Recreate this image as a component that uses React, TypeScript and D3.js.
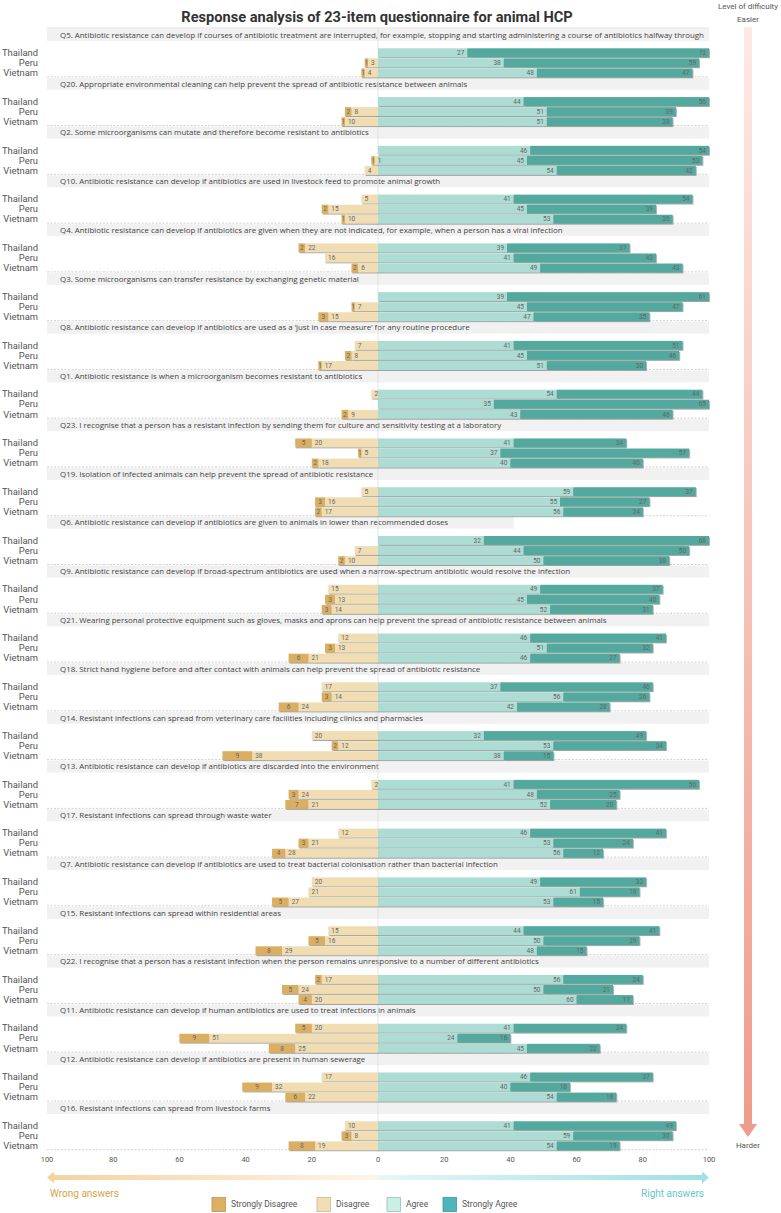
import React from 'react'
import * as d3 from 'd3'

// question order as shown, top (easier) to bottom (harder)
const questions = [
  'Q5. Antibiotic resistance can develop if courses of antibiotic treatment are interrupted, for example, stopping and starting administering a course of antibiotics halfway through',
  'Q20. Appropriate environmental cleaning can help prevent the spread of antibiotic resistance between animals',
  'Q2. Some microorganisms can mutate and therefore become resistant to antibiotics',
  'Q10. Antibiotic resistance can develop if antibiotics are used in livestock feed to promote animal growth',
  'Q4. Antibiotic resistance can develop if antibiotics are given when they are not indicated, for example, when a person has a viral infection',
  'Q3. Some microorganisms can transfer resistance by exchanging genetic material',
  'Q8. Antibiotic resistance can develop if antibiotics are used as a \u2018just in case measure\u2019 for any routine procedure',
  'Q1. Antibiotic resistance is when a microorganism becomes resistant to antibiotics',
  'Q23. I recognise that a person has a resistant infection by sending them for culture and sensitivity testing at a laboratory',
  'Q19. Isolation of infected animals can help prevent the spread of antibiotic resistance',
  'Q6. Antibiotic resistance can develop if antibiotics are given to animals in lower than recommended doses',
  'Q9. Antibiotic resistance can develop if broad-spectrum antibiotics are used when a narrow-spectrum antibiotic would resolve the infection',
  'Q21. Wearing personal protective equipment such as gloves, masks and aprons can help prevent the spread of antibiotic resistance between animals',
  'Q18. Strict hand hygiene before and after contact with animals can help prevent the spread of antibiotic resistance',
  'Q14. Resistant infections can spread from veterinary care facilities including clinics and pharmacies',
  'Q13. Antibiotic resistance can develop if antibiotics are discarded into the environment',
  'Q17. Resistant infections can spread through waste water',
  'Q7. Antibiotic resistance can develop if antibiotics are used to treat bacterial colonisation rather than bacterial infection',
  'Q15. Resistant infections can spread within residential areas',
  'Q22. I recognise that a person has a resistant infection when the person remains unresponsive to a number of different antibiotics',
  'Q11. Antibiotic resistance can develop if human antibiotics are used to treat infections in animals',
  'Q12. Antibiotic resistance can develop if antibiotics are present in human sewerage',
  'Q16. Resistant infections can spread from livestock farms',
]

const countries = ['Thailand', 'Peru', 'Vietnam']

// [Thailand, Peru, Vietnam] per question
const stronglyDisagree = [
  [0, 1, 1], [0, 2, 1], [0, 1, 0], [0, 2, 1], [2, 0, 2], [0, 1, 3], [0, 2, 1], [0, 0, 2],
  [5, 1, 2], [0, 3, 2], [0, 0, 2], [0, 3, 3], [0, 3, 6], [0, 3, 6], [0, 2, 9], [0, 3, 7],
  [0, 3, 4], [0, 0, 5], [0, 5, 8], [2, 5, 4], [5, 9, 8], [0, 9, 6], [0, 3, 8],
]
const disagree = [
  [0, 3, 4], [0, 8, 10], [0, 1, 4], [5, 15, 10], [22, 16, 6], [0, 7, 15], [7, 8, 17], [2, 0, 9],
  [20, 5, 18], [5, 16, 17], [0, 7, 10], [15, 13, 14], [12, 13, 21], [17, 14, 24], [20, 12, 38], [2, 24, 21],
  [12, 21, 28], [20, 21, 27], [15, 16, 29], [17, 24, 20], [20, 51, 25], [17, 32, 22], [10, 8, 19],
]
const agree = [
  [27, 38, 48], [44, 51, 51], [46, 45, 54], [41, 45, 53], [39, 41, 49], [39, 45, 47], [41, 45, 51], [54, 35, 43],
  [41, 37, 40], [59, 55, 56], [32, 44, 50], [49, 45, 52], [46, 51, 46], [37, 56, 42], [32, 53, 38], [41, 48, 52],
  [46, 53, 56], [49, 61, 53], [44, 50, 48], [56, 50, 60], [41, 24, 45], [46, 40, 54], [41, 59, 54],
]
const stronglyAgree = [
  [73, 59, 47], [56, 39, 38], [54, 53, 42], [54, 39, 36], [37, 43, 43], [61, 47, 35], [51, 46, 30], [44, 65, 46],
  [34, 57, 40], [37, 27, 24], [68, 50, 38], [37, 40, 31], [41, 32, 27], [46, 26, 28], [49, 34, 15], [56, 25, 20],
  [41, 24, 12], [32, 18, 15], [41, 29, 15], [24, 21, 17], [34, 16, 22], [37, 18, 18], [49, 30, 19],
]

const legendLabels = ['Strongly Disagree', 'Disagree', 'Agree', 'Strongly Agree']

const COL = { sd: '#dbaf62', d: '#f0ddb3', a: '#acdcd4', sa: '#53a99d' }
const LEGEND_FILL = ['#dcb062', '#f0dfb6', '#c9efe7', '#4db5bb']
const LEGEND_STROKE = ['#b8965a', '#c9b78f', '#9cbdb8', '#3b9aa0']

const W = 781
const H = 1213
const TOP = 29
const STEP = 48.77

const App = () => {
  const x = d3.scaleLinear().domain([-100, 100]).range([47, 709])
  const yQ = d3
    .scaleBand<number>()
    .domain(d3.range(questions.length))
    .range([TOP, TOP + STEP * questions.length])
  const yC = d3.scaleBand<string>().domain(countries).range([19.3, 48.3]).paddingInner(0.12)
  const bh = yC.bandwidth()
  const numFont = { fontFamily: 'Roboto, sans-serif', fontSize: 6.5, fill: '#666' }

  const ticks = x.ticks(10)

  return (
    <svg
      width={W}
      height={H}
      style={{ position: 'absolute', left: 0, top: 0, background: '#fff' }}
    >
      <defs>
        <filter id='shadow' x='-5%' y='-50%' width='110%' height='200%'>
          <feDropShadow dx='0.8' dy='1' stdDeviation='0.4' floodColor='#555' floodOpacity='0.55' />
        </filter>
        <linearGradient id='vgrad' x1='0' y1='0' x2='0' y2='1'>
          <stop offset='0' stopColor='#fde9e5' />
          <stop offset='1' stopColor='#ee9c8b' />
        </linearGradient>
        <linearGradient id='hgrad' x1='0' y1='0' x2='1' y2='0'>
          <stop offset='0' stopColor='#f5d3a1' />
          <stop offset='0.5' stopColor='#fdf4e8' />
          <stop offset='0.5' stopColor='#e5f7f7' />
          <stop offset='1' stopColor='#9fe0e4' />
        </linearGradient>
      </defs>

      <text
        x={377}
        y={22}
        textAnchor='middle'
        style={{ fontFamily: 'Roboto, sans-serif', fontSize: 14.6, fontWeight: 700, fill: '#333' }}
      >
        Response analysis of 23-item questionnaire for animal HCP
      </text>

      <line x1={x(-100)} x2={x(100)} y1={28} y2={28} stroke='#d6d6d6' strokeWidth={0.8} />

      {/* question bands */}
      {questions.map((q, i) => {
        const top = yQ(i)!
        const bandEnd = i === 10 ? x(41) : x(100)
        return (
          <g key={'b' + i}>
            <line
              x1={x(-100)}
              x2={x(100)}
              y1={top + 47.8}
              y2={top + 47.8}
              stroke='#bbb'
              strokeWidth={0.7}
              strokeDasharray='2,1.5'
            />
            <rect x={x(-100)} y={top} width={bandEnd - x(-100)} height={12} fill='#f1f1f1' />
            <text
              x={60}
              y={top + 6}
              dy='0.35em'
              style={{ fontFamily: '"Open Sans", sans-serif', fontSize: 7.9, fill: '#444' }}
            >
              {q}
            </text>
          </g>
        )
      })}

      <line x1={x(0)} x2={x(0)} y1={28} y2={1152} stroke='#ddd' strokeWidth={0.8} />

      {/* bars */}
      {questions.map((q, i) => {
        const top = yQ(i)!
        return (
          <g key={'q' + i}>
            {countries.map((c, j) => {
              const sd = stronglyDisagree[i][j]
              const d = disagree[i][j]
              const a = agree[i][j]
              const sa = stronglyAgree[i][j]
              const y0 = top + yC(c)!
              const cy = y0 + bh / 2
              return (
                <g key={c}>
                  <text
                    x={38}
                    y={cy}
                    dy='0.35em'
                    textAnchor='end'
                    style={{ fontFamily: 'Roboto, sans-serif', fontSize: 9.4, fill: '#555' }}
                  >
                    {c}
                  </text>
                  <g filter='url(#shadow)'>
                    {sd > 0 && (
                      <rect x={x(-(d + sd))} y={y0} width={x(-d) - x(-(d + sd))} height={bh} fill={COL.sd} />
                    )}
                    {d > 0 && <rect x={x(-d)} y={y0} width={x(0) - x(-d)} height={bh} fill={COL.d} />}
                    <rect x={x(0)} y={y0} width={x(a) - x(0)} height={bh} fill={COL.a} />
                    <rect x={x(a)} y={y0} width={x(a + sa) - x(a)} height={bh} fill={COL.sa} />
                  </g>
                  {sd > 0 && (
                    <text x={x(-(d + sd / 2))} y={cy} dy='0.35em' textAnchor='middle' style={numFont}>
                      {sd}
                    </text>
                  )}
                  {d > 0 && (
                    <text x={x(-d) + 3} y={cy} dy='0.35em' textAnchor='start' style={numFont}>
                      {d}
                    </text>
                  )}
                  <text x={x(a) - 3} y={cy} dy='0.35em' textAnchor='end' style={numFont}>
                    {a}
                  </text>
                  <text x={x(a + sa) - 3} y={cy} dy='0.35em' textAnchor='end' style={numFont}>
                    {sa}
                  </text>
                </g>
              )
            })}
          </g>
        )
      })}

      {/* x axis labels */}
      {ticks.map(t => (
        <text
          key={t}
          x={x(t)}
          y={1159}
          dy='0.35em'
          textAnchor='middle'
          style={{ fontFamily: 'Roboto, sans-serif', fontSize: 7.5, fill: '#555' }}
        >
          {Math.abs(t)}
        </text>
      ))}

      {/* right / wrong arrow */}
      <rect x={x(-100) + 6} y={1175} width={x(100) - x(-100) - 12} height={5} fill='url(#hgrad)' />
      <path
        d={`M${x(-100)},1177.5 L${x(-100) + 7},1171.5 L${x(-100) + 7},1183.5 Z`}
        fill='#f5d3a1'
      />
      <path d={`M${x(100)},1177.5 L${x(100) - 7},1171.5 L${x(100) - 7},1183.5 Z`} fill='#9fe0e4' />
      <text
        x={50}
        y={1193}
        dy='0.35em'
        style={{ fontFamily: 'Roboto, sans-serif', fontSize: 10, fill: '#d6a446' }}
      >
        Wrong answers
      </text>
      <text
        x={704}
        y={1193}
        dy='0.35em'
        textAnchor='end'
        style={{ fontFamily: 'Roboto, sans-serif', fontSize: 10, fill: '#67c5cc' }}
      >
        Right answers
      </text>

      {/* legend */}
      {legendLabels.map((l, k) => {
        const lx = [212, 317, 387, 443][k]
        return (
          <g key={l}>
            <rect
              x={lx}
              y={1197.5}
              width={13.5}
              height={14}
              fill={LEGEND_FILL[k]}
              stroke={LEGEND_STROKE[k]}
              strokeWidth={0.8}
            />
            <text
              x={lx + 19}
              y={1204.5}
              dy='0.35em'
              style={{ fontFamily: 'Roboto, sans-serif', fontSize: 8.5, fill: '#555' }}
            >
              {l}
            </text>
          </g>
        )
      })}

      {/* difficulty arrow */}
      <text
        x={748}
        y={6}
        dy='0.35em'
        textAnchor='middle'
        style={{ fontFamily: 'Roboto, sans-serif', fontSize: 8, fill: '#555' }}
      >
        Level of difficulty
      </text>
      <text
        x={748}
        y={19}
        dy='0.35em'
        textAnchor='middle'
        style={{ fontFamily: 'Roboto, sans-serif', fontSize: 8, fill: '#555' }}
      >
        Easier
      </text>
      <rect x={744} y={27} width={8} height={1098} fill='url(#vgrad)' />
      <path d='M739,1124 L757,1124 L748,1137 Z' fill='#ee9c8b' />
      <text
        x={748}
        y={1145}
        dy='0.35em'
        textAnchor='middle'
        style={{ fontFamily: 'Roboto, sans-serif', fontSize: 8, fill: '#555' }}
      >
        Harder
      </text>
    </svg>
  )
}

export default App
